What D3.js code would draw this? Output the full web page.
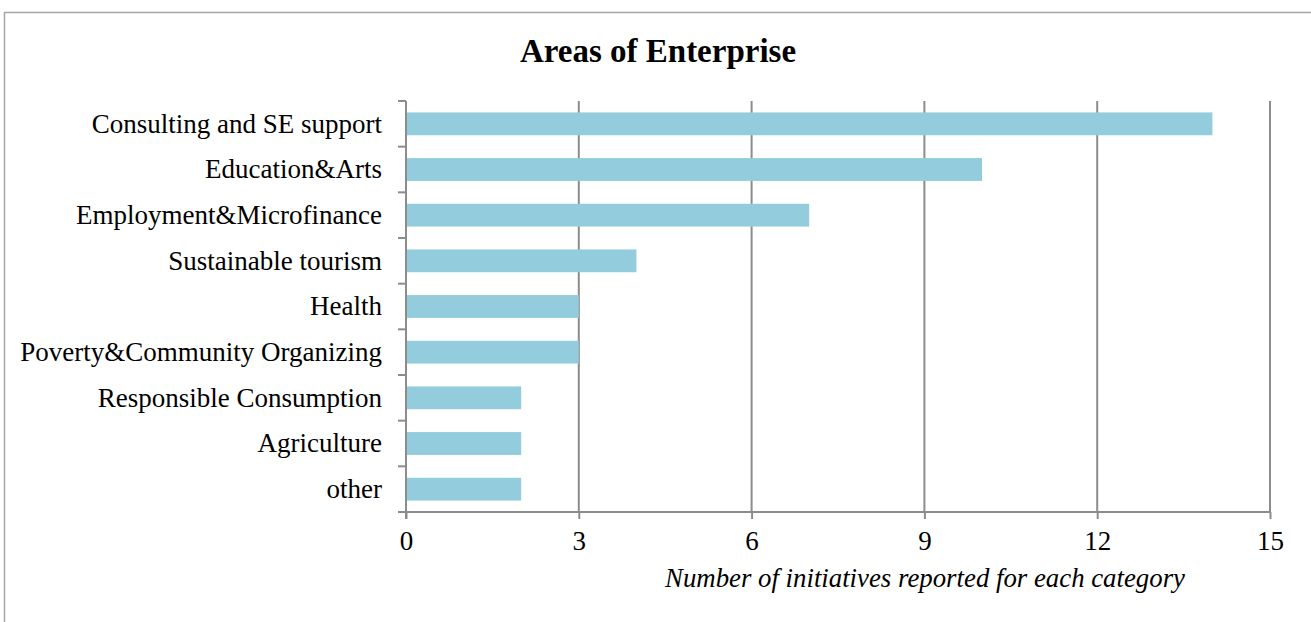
<!DOCTYPE html>
<html>
<head>
<meta charset="utf-8">
<script src="https://cdn.jsdelivr.net/npm/d3@7"></script>
<style>
  html, body { margin: 0; padding: 0; background: #fff; }
  svg { display: block; }
</style>
</head>
<body>
<svg id="chart" width="1311" height="622"></svg>
<script>
const categories = [
  "Consulting and SE support",
  "Education&Arts",
  "Employment&Microfinance",
  "Sustainable tourism",
  "Health",
  "Poverty&Community Organizing",
  "Responsible Consumption",
  "Agriculture",
  "other"
];
const values = [14, 10, 7, 4, 3, 3, 2, 2, 2];
const xTicks = [0, 3, 6, 9, 12, 15];
const chartTitle = "Areas of Enterprise";
const xTitle = "Number of initiatives reported for each category";

(function () {
const svg = d3.select("#chart");
const font = "'Liberation Serif', 'Times New Roman', serif";
const gray = "#8c8c8c";

// outer frame (top and left edges visible)
svg.append("path")
  .attr("d", "M4.5,622 L4.5,12.5 L1311,12.5")
  .attr("fill", "none").attr("stroke", "#a6a6a6").attr("stroke-width", 1.5);

const pL = 406, pR = 1270, pT = 101, pB = 512;
const x = d3.scaleLinear().domain([0, 15]).range([pL, pR]);
const y = d3.scaleBand().domain(categories).range([pT, pB]).paddingInner(0.5).paddingOuter(0.25);

// gridlines
svg.append("g").selectAll("line").data(xTicks.filter(d => d > 0)).join("line")
  .attr("x1", d => x(d)).attr("x2", d => x(d))
  .attr("y1", pT).attr("y2", pB)
  .attr("stroke", gray).attr("stroke-width", 2);

// bars
svg.append("g").selectAll("rect").data(values).join("rect")
  .attr("x", x(0))
  .attr("y", (d, i) => y(categories[i]))
  .attr("width", d => x(d) - x(0))
  .attr("height", y.bandwidth())
  .attr("fill", "#93cddd");

// x axis
const xAxis = svg.append("g").attr("transform", `translate(0,${pB})`)
  .call(d3.axisBottom(x).tickValues(xTicks).tickSize(7).tickPadding(12).tickFormat(d3.format("d")));
xAxis.select(".domain").attr("stroke", gray).attr("stroke-width", 2).attr("d", `M${pL - 8},0H${pR}`);
xAxis.selectAll(".tick line").attr("stroke", gray).attr("stroke-width", 2);
xAxis.selectAll("text").attr("font-family", font).attr("font-size", 27).attr("fill", "#000")
  .attr("dy", "0.71em");

// y axis: ticks at category boundaries
const yAxisG = svg.append("g");
yAxisG.append("line").attr("x1", pL).attr("x2", pL).attr("y1", pT).attr("y2", pB + 7)
  .attr("stroke", gray).attr("stroke-width", 2);
const bounds = d3.range(categories.length + 1).map(i => pT + i * (pB - pT) / categories.length);
yAxisG.selectAll("line.tk").data(bounds).join("line").attr("class", "tk")
  .attr("x1", pL - 8).attr("x2", pL)
  .attr("y1", d => d).attr("y2", d => d)
  .attr("stroke", gray).attr("stroke-width", 2);
yAxisG.selectAll("text").data(categories).join("text")
  .attr("x", pL - 24)
  .attr("y", d => y(d) + y.bandwidth() / 2)
  .attr("dy", "0.33em")
  .attr("text-anchor", "end")
  .attr("font-family", font).attr("font-size", 27).attr("fill", "#000")
  .text(d => d);

// title
svg.append("text").attr("x", 658).attr("y", 62).attr("text-anchor", "middle")
  .attr("font-family", font).attr("font-weight", "bold").attr("font-size", 33)
  .text(chartTitle);

// x axis title
svg.append("text").attr("x", 925).attr("y", 587).attr("text-anchor", "middle")
  .attr("font-family", font).attr("font-style", "italic").attr("font-size", 26.8)
  .text(xTitle);
})();
</script>
</body>
</html>
